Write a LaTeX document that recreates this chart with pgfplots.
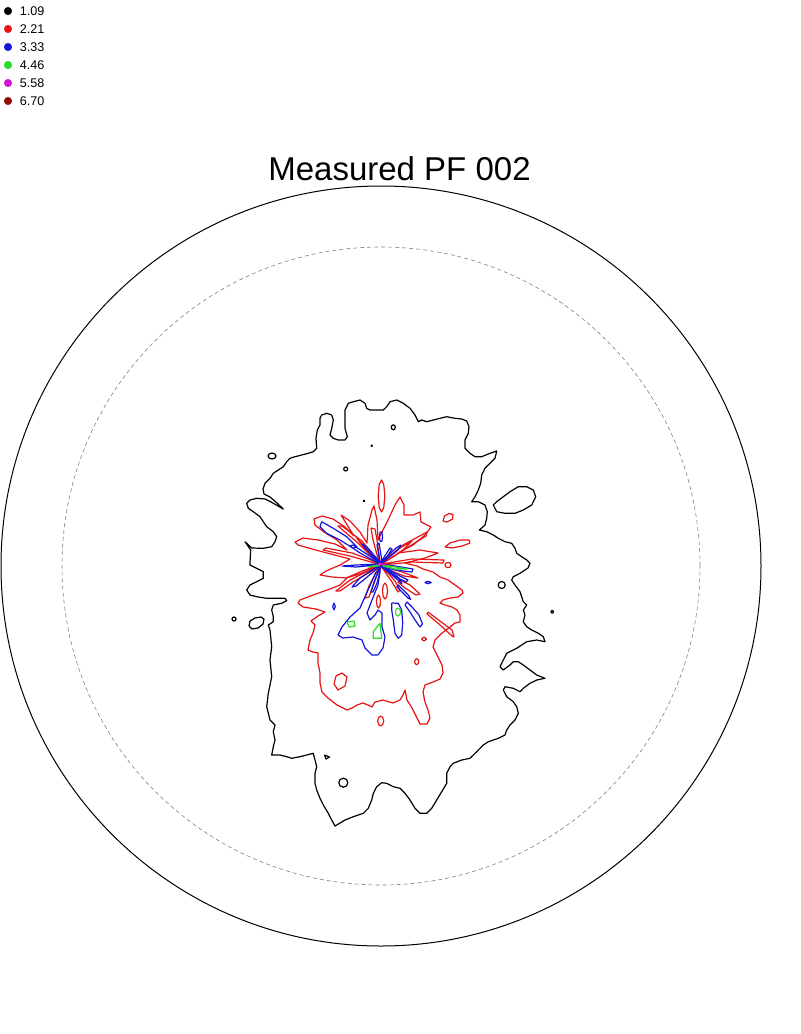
\documentclass[border=0pt]{standalone}
\usepackage{pgfplots}
\pgfplotsset{compat=1.18}
\usepackage{fontspec}
\setmainfont{Liberation Sans}
\definecolor{cred}{RGB}{230,20,20}
\definecolor{cblue}{RGB}{20,20,220}
\definecolor{cgreen}{RGB}{40,220,40}
\definecolor{cmag}{RGB}{210,20,210}
\definecolor{cdred}{RGB}{150,10,10}
\begin{document}
\begin{tikzpicture}
\begin{axis}[hide axis, clip=false, x=0.5pt, y=0.5pt, y dir=reverse,
  xmin=0, xmax=800, ymin=0, ymax=1034,
  every axis plot/.append style={line join=round, line width=0.6pt}]
\path (axis cs:0,0) rectangle (axis cs:800,1034);
% circles
\draw[black, line width=0.5pt] (axis cs:381,566) circle[radius=190pt];
\draw[gray, line width=0.3pt, dash pattern=on 2pt off 1.5pt] (axis cs:381,566) circle[radius=159.5pt];
% title
\node[anchor=base, font=\fontsize{16.5}{18}\selectfont] at (axis cs:399.5,180) {Measured PF 002};
% legend
\addplot[only marks, mark=*, mark size=1.7pt, black] coordinates {(8,11)};
\addplot[only marks, mark=*, mark size=1.7pt, cred] coordinates {(8,29)};
\addplot[only marks, mark=*, mark size=1.7pt, cblue] coordinates {(8,47)};
\addplot[only marks, mark=*, mark size=1.7pt, cgreen] coordinates {(8,65)};
\addplot[only marks, mark=*, mark size=1.7pt, cmag] coordinates {(8,83)};
\addplot[only marks, mark=*, mark size=1.7pt, cdred] coordinates {(8,101)};
\node[anchor=base west, inner sep=0pt, font=\fontsize{6.3}{7}\selectfont] at (axis cs:19.5,15.5) {1.09};
\node[anchor=base west, inner sep=0pt, font=\fontsize{6.3}{7}\selectfont] at (axis cs:19.5,33.5) {2.21};
\node[anchor=base west, inner sep=0pt, font=\fontsize{6.3}{7}\selectfont] at (axis cs:19.5,51.5) {3.33};
\node[anchor=base west, inner sep=0pt, font=\fontsize{6.3}{7}\selectfont] at (axis cs:19.5,69.5) {4.46};
\node[anchor=base west, inner sep=0pt, font=\fontsize{6.3}{7}\selectfont] at (axis cs:19.5,87.5) {5.58};
\node[anchor=base west, inner sep=0pt, font=\fontsize{6.3}{7}\selectfont] at (axis cs:19.5,105.5) {6.70};
% ---- level 1.09 (black)
\addplot[black, mark=none] coordinates {
(250,563)(250.7,550)(245,541.7)(251.7,548)(263.3,548.3)(271.7,546.7)(275,541.7)(276.7,536.7)(273.3,531.7)(266.7,526.7)(263.3,521.7)(260,516.7)(253.3,511.7)(248.3,508.3)(246.7,503.3)(250,500)(256.7,498.3)(265,499)(272,502.5)(278,506)(283.3,509)(277,503)(270,497)(264,494)(263,489)(265,483.3)(270,478.3)(273.3,473.3)(278.3,470)(283.3,466.7)(286.7,461.7)(290,458.3)(295,456.7)(301.7,455)(308.3,453.3)(313.3,451.7)(316.7,448.3)(316,438.3)(317.3,430)(320,425)(320,418.3)(321.7,415)(326.7,413.3)(331.7,415)(333.3,420)(331.7,428.3)(330,435)(333.3,438.3)(338.3,440)(345,440)(347.3,436.7)(345,428.3)(345,418.3)(345,410)(348.3,403.3)(353.3,401.7)(360,400)(365,403.3)(366.7,408.3)(370,410)(376.7,410)(383.3,410)(386.7,406.7)(390,401.7)(396.7,400)(403.3,403.3)(410,408.3)(415,415)(418.3,421.7)(421.7,420)(426.7,421.7)(433.3,420)(440,418.3)(446.7,416.7)(455,418.3)(461.7,419)(466.7,421)(469,426.7)(468.3,433.3)(465,440)(465,448.3)(470,453.3)(475,456.7)(481.7,456.7)(490,453.3)(496.7,451)(495,458.3)(490,463.3)(485,468.3)(481.7,475)(480.7,483.3)(478.3,490)(475,496.7)(471.7,501.7)(478.3,501.7)(485,505)(487.3,511.7)(486.7,518.3)(485,525)(479.3,530)(486.7,531.7)(493.3,535)(498.3,538.3)(505,541.7)(511.7,543.3)(515,548.3)(516.7,553.3)(521.7,556.7)(526.7,560)(530,563.3)(528,568)(520,573.3)(513.3,576.7)(511.7,580)(515,585)(520,591.7)(521.7,596.7)(523.3,601.7)(526.7,605)(523.3,610)(525,615)(523.3,621.7)(526.7,626.7)(531.7,630)(538.3,633.3)(543.3,636.7)(545,641.7)(536.7,640)(526.7,641.7)(521.7,645)(516.7,648.3)(513.3,650)(506.7,653.3)(503.3,660)(500,666.7)(503.3,670)(510,665)(513.3,661.7)(518.3,661.7)(523.3,665)(530,670)(536.7,675)(545,678.3)(536.7,680)(530,683.3)(523.3,688.3)(520,691.7)(513.3,688.3)(505,686.7)(503.3,690)(506.7,696.7)(513.3,701.7)(516.7,706.7)(518.3,713.3)(515,720)(510,725)(506.7,730)(505,735)(498.3,738.3)(488.3,741.7)(483.3,745)(476.7,751.7)(470,758.3)(461.7,760)(453.3,763.3)(450,766.7)(446.7,773.3)(446.7,783.3)(441.7,791.7)(436.7,800)(431.7,808.3)(426.7,813.3)(420,813.3)(415,808.3)(410,800)(405,793.3)(400,788.3)(393.3,786.7)(386.7,783.3)(381.7,782.7)(376.7,786.7)(373.3,793.3)(371.7,800)(368.3,808.3)(363.3,813.3)(353.3,816.7)(345,820)(335,826)(331.7,820)(328.3,813.3)(323.3,805)(320,798.3)(316.7,790)(315,783.3)(315,773.3)(316.7,766.7)(313.3,753.3)(306.7,755)(300,756.7)(291.7,758.3)(286.7,756.7)(280,755)(271.7,755)(273.3,746.7)(275,740)(273.3,731.7)(275,725)(270,720)(266.7,706.7)(268.3,693.3)(271.7,676.7)(270,660)(271.7,646.7)(270,630)(268.3,625)(273.3,621.7)(273.3,616.7)(271.7,610)(273.3,605)(281.7,603.3)(286.7,600.7)(285,598.3)(276.7,598.3)(266.7,598.3)(256.7,596.7)(250,595)(246.7,590)(250,585)(256.7,581.7)(263.3,578.3)(263.3,571.7)(256.7,568.3)(250,565)(250,563)};
\addplot[black] coordinates {(493.3,505)(496.7,511.7)(505,513.3)(515,513.3)(523.3,510)(531.7,505)(535.7,496.7)(533.3,490)(526.7,486.7)(518.3,486.7)(510,491.7)(503.3,496.7)(496.7,501.7)(493.3,505)};
\addplot[black] coordinates {(391.3,427.3)(391.9,425.5)(393.3,424.8)(394.7,425.5)(395.3,427.3)(394.7,429.1)(393.3,429.8)(391.9,429.1)(391.3,427.3)};
\addplot[black] coordinates {(371,445.7)(371.7,445)(372.4,445.7)(371.7,446.4)(371,445.7)};
\addplot[black] coordinates {(343.7,469)(344.3,467.6)(345.7,467)(347.1,467.6)(347.7,469)(347.1,470.4)(345.7,471)(344.3,470.4)(343.7,469)};
\addplot[black] coordinates {(268,456)(269.2,453.9)(272,453)(274.8,453.9)(276,456)(274.8,458.1)(272,459)(269.2,458.1)(268,456)};
\addplot[black] coordinates {(363.3,501)(364,500.3)(364.7,501)(364,501.7)(363.3,501)};
\addplot[black] coordinates {(232,619)(232.6,617.6)(234,617)(235.4,617.6)(236,619)(235.4,620.4)(234,621)(232.6,620.4)(232,619)};
\addplot[black] coordinates {(249,626)(250,621)(255,618)(261,617)(264,619)(263,624)(258,628)(252,629)(249,626)};
\addplot[black] coordinates {(324.5,755)(329.5,757)(326,759)(324.5,755)};
\addplot[black] coordinates {(338.8,782.7)(340.1,779.5)(343.3,778.2)(346.5,779.5)(347.8,782.7)(346.5,785.9)(343.3,787.2)(340.1,785.9)(338.8,782.7)};
\addplot[black] coordinates {(498.2,585)(499.2,582.5)(501.7,581.5)(504.2,582.5)(505.2,585)(504.2,587.5)(501.7,588.5)(499.2,587.5)(498.2,585)};
\addplot[black] coordinates {(550.8,611.7)(552.3,610.2)(553.8,611.7)(552.3,613.2)(550.8,611.7)};
% ---- level 2.21 (red)
\addplot[cred] coordinates {
(350,559)(327,553)(312,549)(298,545)(295,542)(303,538)(318,540)(335,544)(347,550)(337,540)(324,532)(315,525)(314,519)(322,516)(333,519)(345,527)(354,536)(346,523)(341,515)(350,521)(360,532)(367,543)(368,525)(372,510)(374,506)(377,520)(378,540)(388,520)(395,505)(400,497)(404,505)(404,515)(413,515)(420,512)(421,522)(431,527)(425,535)(413,545)(398,553)(420,550)(438,553)(425,558)(405,563)(417,566)(423,569)(433,572)(440,577)(448,580)(455,585)(462,590)(463,593)(458,597)(450,598)(443,600)(440,603)(445,605)(452,607)(457,610)(460,615)(460,622)(455,623)(450,627)(442,633)(435,640)(433,647)(438,657)(442,665)(443,673)(440,679)(433,682)(425,685)(423,692)(425,702)(428,710)(430,718)(427,724)(420,724)(417,718)(412,708)(407,700)(405,690)(403,695)(400,700)(393,703)(383,700)(375,702)(372,707)(368,705)(363,703)(357,705)(352,708)(347,710)(337,705)(328,698)(322,692)(320,683)(320,673)(318,663)(318,653)(313,652)(308,650)(310,640)(313,633)(315,625)(311,621)(318,616)(325,612)(316,609)(303,607)(298,603)(300,600)(313,595)(330,589)(340,585)(347,578)(332,577)(320,575)(326,571)(340,565)(350,559)};
\addplot[cred] coordinates {(378.2,496)(379.2,484.7)(381.5,480)(383.8,484.7)(384.8,496)(383.8,507.3)(381.5,512)(379.2,507.3)(378.2,496)};
\addplot[cred] coordinates {(443,521)(444.5,516)(449,513.5)(453,514.5)(452.5,519)(447,522)(443,521)};
\addplot[cred] coordinates {(445,547)(450,543)(460,540)(469,540)(470,543)(462,546)(452,548)(445,547)};
\addplot[cred] coordinates {(445,565)(446,563)(448,562.5)(450,563)(451,565)(450,567)(448,567.5)(446,567)(445,565)};
\addplot[cred] coordinates {(334,684)(336,676)(342,673)(347,677)(345,686)(338,690)(334,684)};
\addplot[cred] coordinates {(377.7,721)(378.6,717.5)(380.7,716)(382.8,717.5)(383.7,721)(382.8,724.5)(380.7,726)(378.6,724.5)(377.7,721)};
\addplot[cred] coordinates {(414.7,661.7)(415.3,659.6)(416.7,658.7)(418.1,659.6)(418.7,661.7)(418.1,663.8)(416.7,664.7)(415.3,663.8)(414.7,661.7)};
\addplot[cred] coordinates {(421.5,639)(424,637)(426.5,639)(424,641)(421.5,639)};
\addplot[cred] coordinates {(428,612)(440,621)(452,630)(454,637)(452,636)(439,624)(427,614)(428,612)};
\addplot[cred] coordinates {(376.5,601.5)(377.1,596.9)(378.5,595)(379.9,596.9)(380.5,601.5)(379.9,606.1)(378.5,608)(377.1,606.1)(376.5,601.5)};
\addplot[cred] coordinates {(382.5,591)(383.2,585.4)(385,583)(386.8,585.4)(387.5,591)(386.8,596.6)(385,599)(383.2,596.6)(382.5,591)};
\addplot[cred] coordinates {(400,580)(410,585)(420,594)(416,595)(405,588)(398,582)(400,580)};
\addplot[cred] coordinates {(380,563)(400,548)(412,541)(402,551)(381,564)(380,563)};
\addplot[cred] coordinates {(381,565)(405,573)(418,578)(404,576)(380,566)(381,565)};
\addplot[cred] coordinates {(378,565)(360,572)(346,578)(360,574)(379,566)(378,565)};
\addplot[cred] coordinates {(378,562)(362,545)(356,537)(365,547)(379,563)(378,562)};
\addplot[cred] coordinates {(378,563)(358,543)(338,526)(342,526)(362,541)(379,562)(378,563)};
\addplot[cred] coordinates {(378,564)(350,556)(323,550)(326,548)(352,553)(379,563)(378,564)};
\addplot[cred] coordinates {(381,563)(403,545)(427,532)(426,536)(405,549)(382,564)(381,563)};
\addplot[cred] coordinates {(382,564)(412,559)(444,560)(443,563)(412,562)(382,565)(382,564)};
\addplot[cred] coordinates {(378,566)(350,580)(336,591)(340,591)(353,582)(379,567)(378,566)};
\addplot[cred] coordinates {(379,567)(369,586)(365,598)(369,597)(373,586)(380,567)(379,567)};
\addplot[cred] coordinates {(379,562)(373,540)(371,528)(375,529)(377,540)(380,562)(379,562)};
\addplot[cred] coordinates {(381,566)(392,582)(398,592)(400,590)(395,581)(382,566)(381,566)};
% ---- level 3.33 (blue)
\addplot[cblue] coordinates {(321.7,521.7)(333.3,528.3)(346.7,536.7)(356.7,546.7)(353.3,548.3)(340,540)(326.7,533.3)(320,526.7)(321.7,521.7)};
\addplot[cblue] coordinates {(379.5,536.7)(380,532.5)(381,531.7)(382,532.5)(382.5,536.7)(382,540.9)(381,541.7)(380,540.9)(379.5,536.7)};
\addplot[cblue] coordinates {(378,562)(365,548)(362,544)(367,547)(379,561)(378,562)};
\addplot[cblue] coordinates {(380,562)(377,545)(379,543)(382,561)(380,562)};
\addplot[cblue] coordinates {(381,562)(390,548)(392,549)(383,563)(381,562)};
\addplot[cblue] coordinates {(378,564)(356,565)(342,566)(356,567)(378,565)(378,564)};
\addplot[cblue] coordinates {(382,564)(395,566)(413,569)(412,572)(395,570)(382,566)(382,564)};
\addplot[cblue] coordinates {(378,566)(360,578)(352,587)(356,586)(366,578)(379,567)(378,566)};
\addplot[cblue] coordinates {(382,567)(398,580)(402,584)(399,578)(383,566)(382,567)};
\addplot[cblue] coordinates {(378,563)(360,553)(350,546)(353,545)(362,551)(379,562)(378,563)};
\addplot[cblue] coordinates {(381,562)(396,548)(401,545)(398,550)(382,563)(381,562)};
\addplot[cblue] coordinates {(382,565)(398,575)(408,580)(406,582)(396,577)(381,566)(382,565)};
\addplot[cblue] coordinates {(380,567)(374,582)(371,592)(373,592)(377,583)(381,567)(380,567)};
\addplot[cblue] coordinates {(376,572)(368,590)(360,608)(350,617)(342,627)(338,635)(343,638)(353,637)(362,640)(365,648)(372,655)(378,655)(383,648)(385,637)(382,627)(382,613)(378,610)(375,615)(370,620)(367,613)(372,600)(378,585)(380,572)(376,572)};
\addplot[cblue] coordinates {(391.7,603)(398.3,603.3)(401.7,610)(402.7,623.3)(401.7,635)(398.3,638.3)(395,633.3)(393.3,620)(391.7,610)(391.7,603)};
\addplot[cblue] coordinates {(405,605)(410,612)(415,620)(420,627)(422.5,624)(419,615)(412,607)(407,602)(405,605)};
\addplot[cblue] coordinates {(396.7,586.7)(403.3,593.3)(408.3,598.3)(410.7,599.3)(408.3,595)(403.3,590)(398.3,585)(396.7,586.7)};
\addplot[cblue] coordinates {(332.7,606.5)(334,603)(335.3,606.5)(334,610)(332.7,606.5)};
\addplot[cblue] coordinates {(424.7,582.5)(428,581.3)(431.3,582.5)(428,583.7)(424.7,582.5)};
% ---- level 4.46 (green)
\addplot[cgreen] coordinates {(383,565)(395,567)(408,569)(395,569)(383,566)(383,565)};
\addplot[cgreen] coordinates {(378,565)(368,567)(378,566)(378,565)};
\addplot[cgreen] coordinates {(347,622)(354,621)(355,626)(349,627)(347,622)};
\addplot[cgreen] coordinates {(373.3,631.7)(380,623.3)(381.7,638.3)(373.3,638.3)(373.3,631.7)};
\addplot[cgreen] coordinates {(395.5,612)(396.2,609.2)(398,608)(399.8,609.2)(400.5,612)(399.8,614.8)(398,616)(396.2,614.8)(395.5,612)};
% ---- level 5.58 (magenta)
\addplot[cmag] coordinates {(379,563)(386,565)(379,564)(379,563)};
\end{axis}
\end{tikzpicture}
\end{document}
